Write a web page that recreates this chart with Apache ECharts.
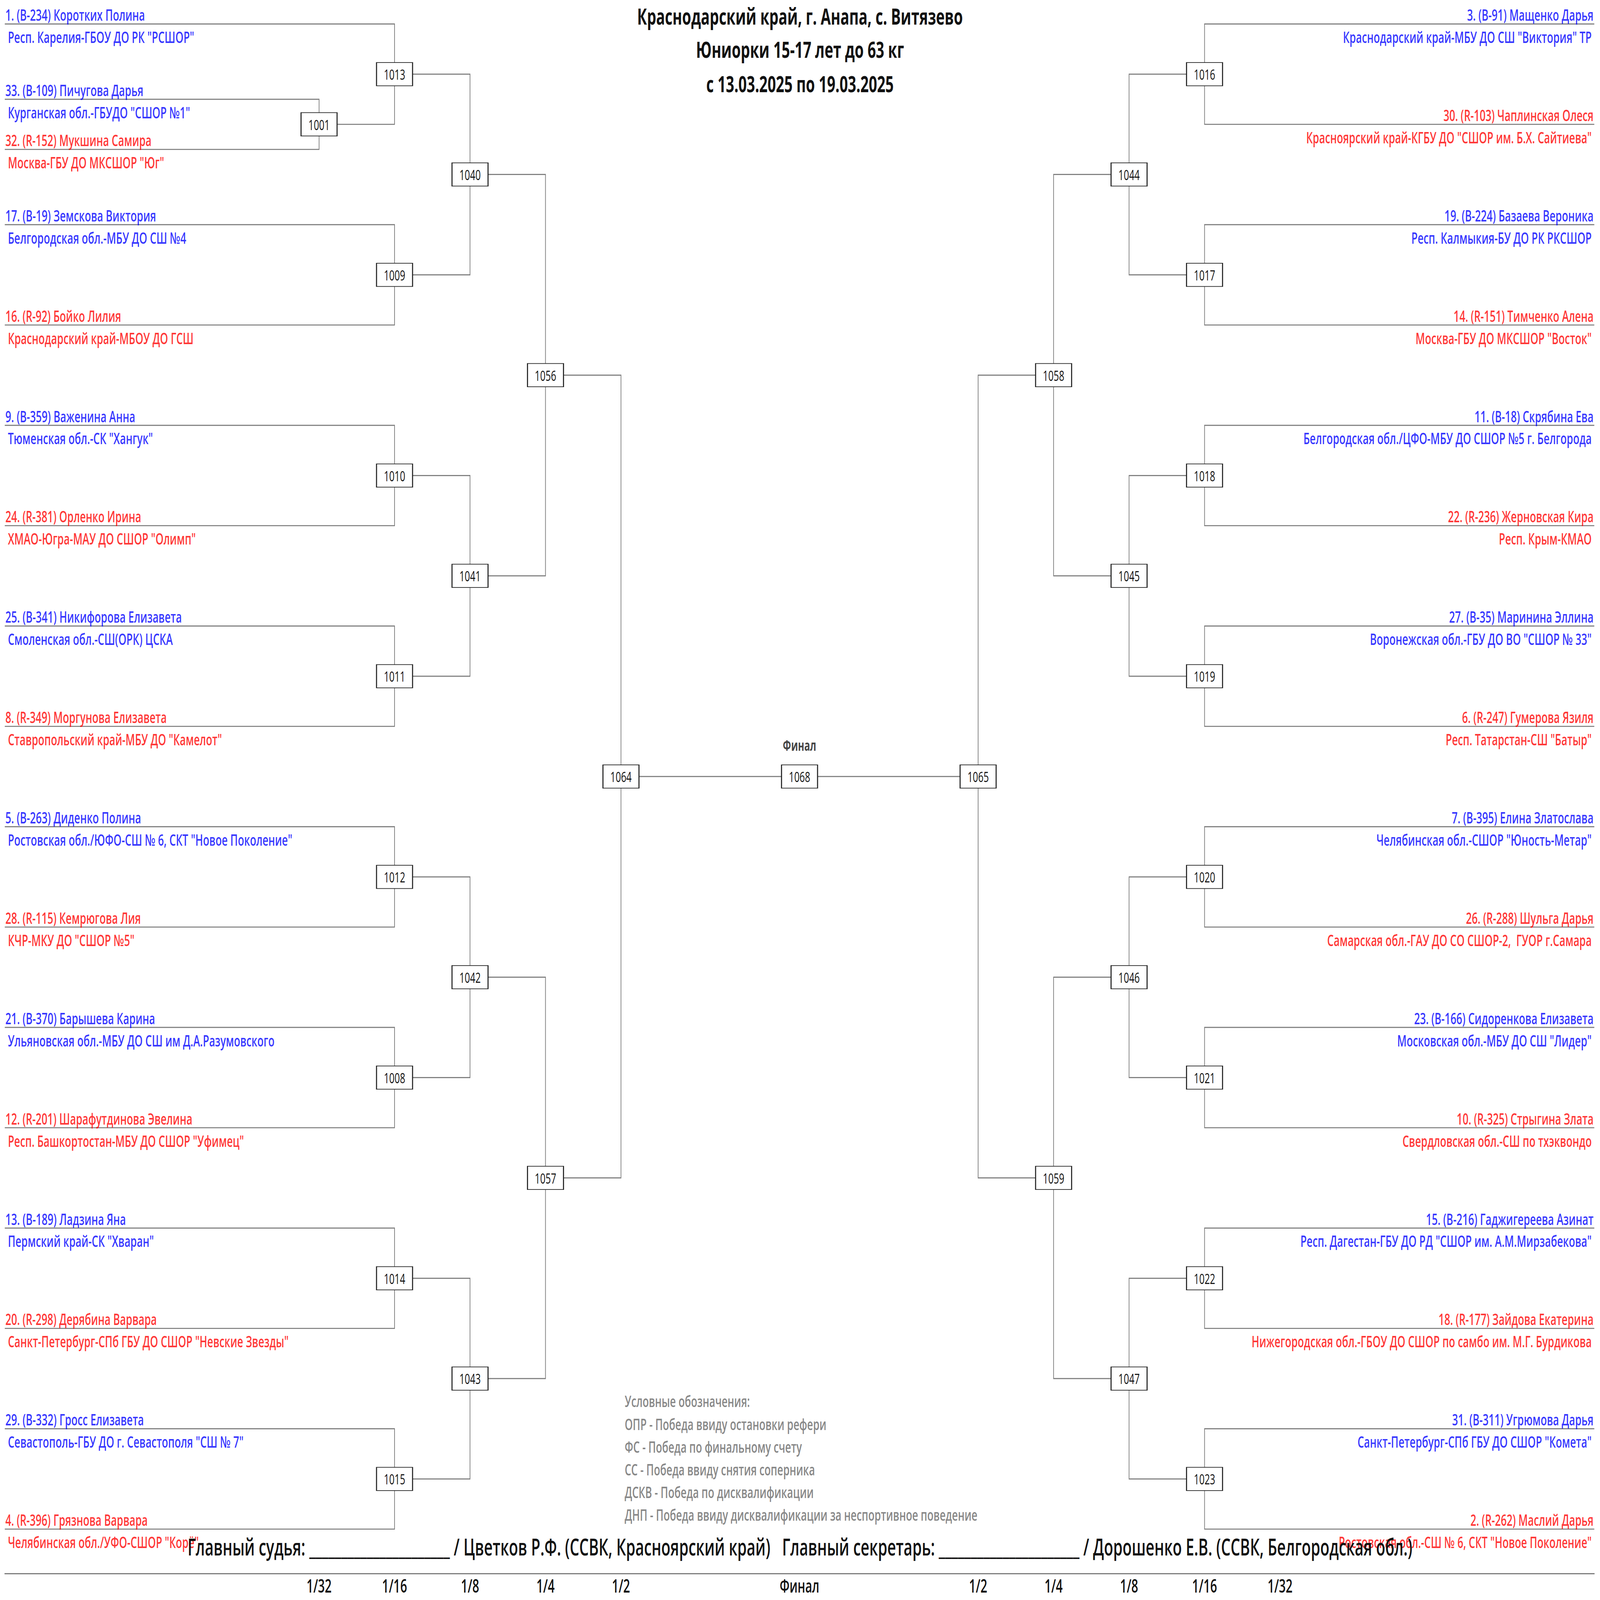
<!DOCTYPE html>
<html>
<head>
<meta charset="utf-8">
<script src="https://cdn.jsdelivr.net/npm/echarts@6/dist/echarts.min.js"></script>
<style>
html,body{margin:0;padding:0;background:#fff;overflow:hidden;}
#chart{position:absolute;left:0;top:0;width:7018px;height:4538px;transform-origin:0 0;}
</style>
</head>
<body>
<div id="chart"></div>
<script>
// ---------------- DATA ----------------
const titleLines = [
  "Краснодарский край, г. Анапа, с. Витязево",
  "Юниорки 15-17 лет до 63 кг",
  "с 13.03.2025 по 19.03.2025"
];
const roundLabels = ["1/32","1/16","1/8","1/4","1/2","Финал","1/2","1/4","1/8","1/16","1/32"];

// left half, 16 slots top to bottom (slot 1 is decided by the preliminary bout)
const leftNames = [
  "1. (B-234) Коротких Полина", null,
  "17. (B-19) Земскова Виктория", "16. (R-92) Бойко Лилия",
  "9. (B-359) Важенина Анна", "24. (R-381) Орленко Ирина",
  "25. (B-341) Никифорова Елизавета", "8. (R-349) Моргунова Елизавета",
  "5. (B-263) Диденко Полина", "28. (R-115) Кемрюгова Лия",
  "21. (B-370) Барышева Карина", "12. (R-201) Шарафутдинова Эвелина",
  "13. (B-189) Ладзина Яна", "20. (R-298) Дерябина Варвара",
  "29. (B-332) Гросс Елизавета", "4. (R-396) Грязнова Варвара"
];
const leftClubs = [
  "Респ. Карелия-ГБОУ ДО РК \"РСШОР\"", null,
  "Белгородская обл.-МБУ ДО СШ №4", "Краснодарский край-МБОУ ДО ГСШ",
  "Тюменская обл.-СК \"Хангук\"", "ХМАО-Югра-МАУ ДО СШОР \"Олимп\"",
  "Смоленская обл.-СШ(ОРК) ЦСКА", "Ставропольский край-МБУ ДО \"Камелот\"",
  "Ростовская обл./ЮФО-СШ № 6, СКТ \"Новое Поколение\"", "КЧР-МКУ ДО \"СШОР №5\"",
  "Ульяновская обл.-МБУ ДО СШ им Д.А.Разумовского", "Респ. Башкортостан-МБУ ДО СШОР \"Уфимец\"",
  "Пермский край-СК \"Хваран\"", "Санкт-Петербург-СПб ГБУ ДО СШОР \"Невские Звезды\"",
  "Севастополь-ГБУ ДО г. Севастополя \"СШ № 7\"", "Челябинская обл./УФО-СШОР \"Корё\""
];
const prelimSlot = 1;
const prelimMatch = "1001";
const prelimNames = ["33. (B-109) Пичугова Дарья", "32. (R-152) Мукшина Самира"];
const prelimClubs = ["Курганская обл.-ГБУДО \"СШОР №1\"", "Москва-ГБУ ДО МКСШОР \"Юг\""];

const rightNames = [
  "3. (B-91) Мащенко Дарья", "30. (R-103) Чаплинская Олеся",
  "19. (B-224) Базаева Вероника", "14. (R-151) Тимченко Алена",
  "11. (B-18) Скрябина Ева", "22. (R-236) Жерновская Кира",
  "27. (B-35) Маринина Эллина", "6. (R-247) Гумерова Язиля",
  "7. (B-395) Елина Златослава", "26. (R-288) Шульга Дарья",
  "23. (B-166) Сидоренкова Елизавета", "10. (R-325) Стрыгина Злата",
  "15. (B-216) Гаджигереева Азинат", "18. (R-177) Зайдова Екатерина",
  "31. (B-311) Угрюмова Дарья", "2. (R-262) Маслий Дарья"
];
const rightClubs = [
  "Краснодарский край-МБУ ДО СШ \"Виктория\" ТР", "Красноярский край-КГБУ ДО \"СШОР им. Б.Х. Сайтиева\"",
  "Респ. Калмыкия-БУ ДО РК РКСШОР", "Москва-ГБУ ДО МКСШОР \"Восток\"",
  "Белгородская обл./ЦФО-МБУ ДО СШОР №5 г. Белгорода", "Респ. Крым-КМАО",
  "Воронежская обл.-ГБУ ДО ВО \"СШОР № 33\"", "Респ. Татарстан-СШ \"Батыр\"",
  "Челябинская обл.-СШОР \"Юность-Метар\"", "Самарская обл.-ГАУ ДО СО СШОР-2,  ГУОР г.Самара",
  "Московская обл.-МБУ ДО СШ \"Лидер\"", "Свердловская обл.-СШ по тхэквондо",
  "Респ. Дагестан-ГБУ ДО РД \"СШОР им. А.М.Мирзабекова\"", "Нижегородская обл.-ГБОУ ДО СШОР по самбо им. М.Г. Бурдикова",
  "Санкт-Петербург-СПб ГБУ ДО СШОР \"Комета\"", "Ростовская обл.-СШ № 6, СКТ \"Новое Поколение\""
];

// match numbers per round (outer round first)
const leftMatches = [
  ["1013","1009","1010","1011","1012","1008","1014","1015"],
  ["1040","1041","1042","1043"],
  ["1056","1057"],
  ["1064"]
];
const rightMatches = [
  ["1016","1017","1018","1019","1020","1021","1022","1023"],
  ["1044","1045","1046","1047"],
  ["1058","1059"],
  ["1065"]
];
const finalMatch = "1068";
const finalLabel = "Финал";

const legendLines = [
  "Условные обозначения:",
  "ОПР - Победа ввиду остановки рефери",
  "ФС - Победа по финальному счету",
  "СС - Победа ввиду снятия соперника",
  "ДСКВ - Победа по дисквалификации",
  "ДНП - Победа ввиду дисквалификации за неспортивное поведение"
];
const judgeText = "Главный судья: ______________________ / Цветков Р.Ф. (ССВК, Красноярский край)   Главный секретарь: ______________________ / Дорошенко Е.В. (ССВК, Белгородская обл.)";

// ---------------- LAYOUT ----------------
const PAGE_W = 7018, PAGE_H = 4538;
const L = {
  semiX: 2.366, step: 1.0, edgeX: 10.53, prelimHalf: 0.25,
  font: "'Open Sans', 'Noto Sans', sans-serif",
  lineColor: "#7a7a7a", boxBorder: "#222",
  blue: "#0000ff", red: "#ff0000",
  titleTops: [6, 100, 197]
};
// fit the 7018x4538 drawing into whatever window the page receives
(function fit() {
  const el = document.getElementById('chart');
  const sx = (window.innerWidth || PAGE_W) / PAGE_W;
  const sy = (window.innerHeight || PAGE_H) / PAGE_H;
  el.style.transform = 'scale(' + sx + ',' + sy + ')';
})();

function colX(depth, side) { // depth: 0 final, 1 = 1/2, 2 = 1/4, 3 = 1/8, 4 = 1/16, 5 = 1/32
  return depth === 0 ? 0 : side * (L.semiX + (depth - 1) * L.step);
}
function colorOf(name) { return name.indexOf("(R-") >= 0 ? L.red : L.blue; }

const lineData = [];
const boxData = [];
const nameLeft = [], clubLeft = [], nameRight = [], clubRight = [];

function buildSide(names, clubs, matches, side, hasPrelim) {
  const edge = side * L.edgeX;
  let ys = matches[0].map((m, i) => 2 * i + 0.5);
  const nameArr = side < 0 ? nameLeft : nameRight;
  const clubArr = side < 0 ? clubLeft : clubRight;
  for (let k = 0; k < names.length; k++) {
    const my = ys[Math.floor(k / 2)];
    if (hasPrelim && k === prelimSlot) {
      const px = colX(5, side);
      prelimNames.forEach((n, j) => {
        const y = k + (j === 0 ? -L.prelimHalf : L.prelimHalf);
        lineData.push({ coords: [[edge, y], [px, y], [px, k]] });
        nameArr.push({ value: [edge, y], name: n, c: colorOf(n) });
        clubArr.push({ value: [edge, y], name: prelimClubs[j], c: colorOf(n) });
      });
      lineData.push({ coords: [[px, k], [colX(4, side), k], [colX(4, side), my]] });
      boxData.push({ value: [px, k], name: prelimMatch });
      continue;
    }
    lineData.push({ coords: [[edge, k], [colX(4, side), k], [colX(4, side), my]] });
    nameArr.push({ value: [edge, k], name: names[k], c: colorOf(names[k]) });
    clubArr.push({ value: [edge, k], name: clubs[k], c: colorOf(names[k]) });
  }
  for (let r = 0; r < matches.length; r++) {
    const depth = 4 - r;
    const x = colX(depth, side);
    matches[r].forEach((m, i) => boxData.push({ value: [x, ys[i]], name: m }));
    let nx, nys;
    if (r + 1 < matches.length) {
      nx = colX(depth - 1, side);
      nys = matches[r + 1].map((m, i) => (ys[2 * i] + ys[2 * i + 1]) / 2);
    } else {
      nx = 0; nys = [ys[0]];
    }
    ys.forEach((y, i) => {
      const py = nys[Math.floor(i / 2)];
      lineData.push({ coords: [[x, y], [nx, y], [nx, py]] });
    });
    ys = nys;
  }
  return ys[0];
}
const finalY = buildSide(leftNames, leftClubs, leftMatches, -1, true);
buildSide(rightNames, rightClubs, rightMatches, 1, false);
boxData.push({ value: [0, finalY], name: finalMatch });

const roundX = [5,4,3,2,1].map(d => colX(d, -1)).concat([0]).concat([1,2,3,4,5].map(d => colX(d, 1)));

function textSeries(data, pos, offset, size) {
  return {
    type: 'scatter', symbolSize: 1, silent: true, z: 4,
    itemStyle: { color: 'transparent' },
    data: data.map(d => ({ value: d.value, name: d.name, label: { color: d.c } })),
    label: {
      show: true, position: pos, distance: 0, offset: offset,
      formatter: p => p.name, fontFamily: L.font, fontWeight: 600, fontSize: size
    }
  };
}

const titles = titleLines.map((t, i) => ({
  text: t, left: 'center', top: L.titleTops[i], padding: 0,
  textStyle: { fontFamily: L.font, fontSize: 64, fontWeight: 'bold', lineHeight: 78, color: '#111' }
}));
titles.push({ text: legendLines.join('\n'), left: 2735, top: 3936,
  textStyle: { fontFamily: L.font, fontSize: 45, fontWeight: 600, lineHeight: 64.5, color: '#888' } });
titles.push({ text: judgeText, left: 'center', top: 4348,
  textStyle: { fontFamily: L.font, fontSize: 66, fontWeight: 600, color: '#111' } });

const chart = echarts.init(document.getElementById('chart'), null, { renderer: 'svg', width: PAGE_W, height: PAGE_H });
chart.setOption({
  animation: false,
  backgroundColor: '#fff',
  title: titles,
  grid: { left: 21, right: 25, top: 0, bottom: 75 },
  xAxis: {
    type: 'value', min: -L.edgeX, max: L.edgeX,
    splitLine: { show: false }, axisTick: { show: false },
    axisLine: { show: true, onZero: false, lineStyle: { color: '#666', width: 3 } },
    axisLabel: {
      show: true, customValues: roundX, margin: 8,
      fontFamily: L.font, fontSize: 52, fontWeight: 600, color: '#111',
      formatter: function (v) {
        let best = 0, bd = 1e9;
        roundX.forEach((x, i) => { const d = Math.abs(x - v); if (d < bd) { bd = d; best = i; } });
        return roundLabels[best];
      }
    }
  },
  yAxis: { type: 'value', inverse: true, min: -0.239, max: 15.443, show: false },
  series: [
    { type: 'lines', coordinateSystem: 'cartesian2d', polyline: true, silent: true, z: 2,
      lineStyle: { color: L.lineColor, width: 3, opacity: 1 }, data: lineData },
    { type: 'scatter', symbol: 'rect', symbolSize: [158, 66], silent: true, z: 5,
      itemStyle: { color: '#fff', borderColor: L.boxBorder, borderWidth: 3, opacity: 1 },
      label: { show: true, position: 'inside', formatter: p => p.name, fontFamily: L.font,
               fontSize: 41, color: '#111' },
      data: boxData },
    { type: 'scatter', symbolSize: 1, silent: true, z: 4, itemStyle: { color: 'transparent' },
      data: [{ value: [0, finalY], name: finalLabel }],
      label: { show: true, position: 'top', distance: 68, formatter: p => p.name,
               fontFamily: L.font, fontSize: 42, fontWeight: 'bold', color: '#111' } },
    textSeries(nameLeft, 'right', [2, -27], 45),
    textSeries(clubLeft, 'right', [13, 36], 45),
    textSeries(nameRight, 'left', [-3, -27], 45),
    textSeries(clubRight, 'left', [-11, 36], 45)
  ]
});
</script>
</body>
</html>
